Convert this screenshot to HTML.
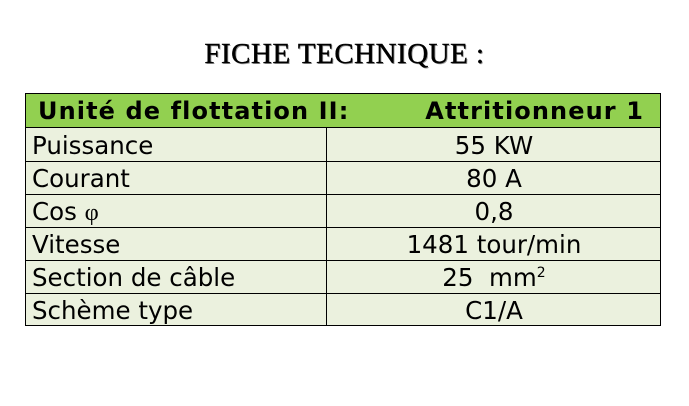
<!DOCTYPE html>
<html><head><meta charset="utf-8"><style>
body{margin:0;width:689px;height:406px;background:#fff;position:relative;overflow:hidden;font-family:"DejaVu Sans","Liberation Sans",sans-serif;}
#title{position:absolute;left:0;width:689px;top:38px;text-align:center;font-family:"Liberation Serif",serif;font-size:29px;letter-spacing:0.5px;color:#000;text-shadow:1px 1px 0 #999;-webkit-text-stroke:0.4px #000;}
#tbl{position:absolute;left:25px;top:93px;width:636px;height:233px;border:1px solid #000;box-sizing:border-box;background:#ebf1de;}
.hdr{position:absolute;left:0;top:0;width:634px;height:33px;background:#92d050;border-bottom:1px solid #000;font-weight:bold;font-size:24px;letter-spacing:1.1px;line-height:35px;white-space:nowrap;}
.h1{position:absolute;left:12px;top:0;}
.h2{position:absolute;right:16px;top:0;}
.row{position:absolute;left:0;width:634px;height:33px;border-bottom:1px solid #000;font-size:24.5px;line-height:35px;white-space:nowrap;}
.row.last{border-bottom:none;}
.lab{position:absolute;left:6px;top:0;}
.val{position:absolute;left:300px;width:334px;top:0;text-align:center;border-left:1px solid #000;height:100%;}
</style></head><body>
<div id="title">FICHE TECHNIQUE :</div>
<div id="tbl">
<div class="hdr"><span class="h1">Unité de flottation II:</span><span class="h2">Attritionneur 1</span></div>
<div class="row" style="top:34px"><span class="lab">Puissance</span><span class="val">55 KW</span></div>
<div class="row" style="top:67px"><span class="lab">Courant</span><span class="val">80 A</span></div>
<div class="row" style="top:100px"><span class="lab">Cos <span style="font-family:'Liberation Serif',serif">φ</span></span><span class="val">0,8</span></div>
<div class="row" style="top:133px"><span class="lab">Vitesse</span><span class="val">1481 tour/min</span></div>
<div class="row" style="top:166px"><span class="lab">Section de câble</span><span class="val">25&nbsp;&nbsp;mm<sup style="font-size:14px;line-height:0">2</sup></span></div>
<div class="row last" style="top:199px"><span class="lab">Schème type</span><span class="val">C1/A</span></div>
</div>
</body></html>
